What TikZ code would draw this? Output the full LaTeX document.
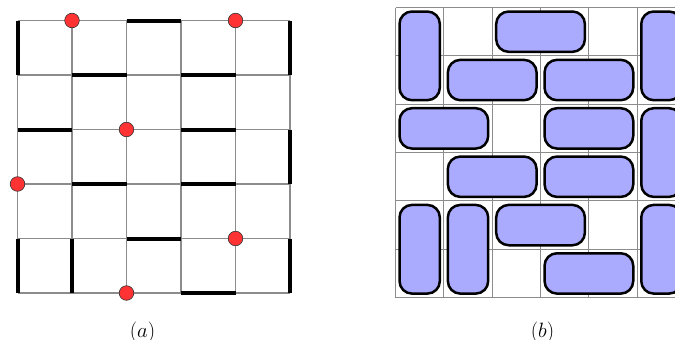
\documentclass[tikz,border=0pt]{standalone}
\definecolor{dotred}{RGB}{255,51,51}
\definecolor{domfill}{RGB}{170,170,255}
\definecolor{gridgray}{RGB}{140,140,140}
\begin{document}
\begin{tikzpicture}[x=1pt,y=-1pt,
  gridline/.style={draw=gridgray, line width=1.1pt},
  wall/.style={draw=black, line width=4pt},
  dot/.style={circle, fill=dotred, draw=black!80, line width=0.6pt, inner sep=0pt, minimum size=14.6pt},
  dominobox/.style={fill=domfill, draw=black, line width=2.5pt, rounded corners=12.5pt},
  caption/.style={font=\fontsize{20.74}{24}\selectfont, inner sep=0pt}]
\useasboundingbox (0,0) rectangle (675,340);
\clip (0,0) rectangle (675,340);
% ---------- panel (a) ----------
\def\ax{17.5}\def\ay{20.5}\def\as{54.5}
\foreach \i in {0,...,5}{
  \draw[gridline] ({\ax+\as*\i},\ay) -- ({\ax+\as*\i},{\ay+5*\as});
  \draw[gridline] (\ax,{\ay+\as*\i}) -- ({\ax+5*\as},{\ay+\as*\i});
}
% horizontal walls: row j, from column i to i+1
\foreach \j/\i in {0/2,1/1,1/3,2/0,2/3,3/1,3/3,4/2,5/3}{
  \draw[wall] ({\ax+\as*\i},{\ay+\as*\j}) -- ({\ax+\as*(\i+1)},{\ay+\as*\j});
}
% vertical walls: column i, from row j to j+1
\foreach \i/\j in {0/0,5/0,5/2,0/4,1/4,5/4}{
  \draw[wall] ({\ax+\as*\i},{\ay+\as*\j}) -- ({\ax+\as*\i},{\ay+\as*(\j+1)});
}
% red points
\foreach \i/\j [count=\k] in {1/0,4/0,2/2,0/3,4/4,2/5}{
  \node[dot] (p\k) at ({\ax+\as*\i},{\ay+\as*\j}) {};
}
% ---------- panel (b) ----------
\def\bx{395.5}\def\by{7.5}\def\bs{48.35}
\foreach \i in {0,...,6}{
  \draw[gridline] ({\bx+\bs*\i},\by) -- ({\bx+\bs*\i},{\by+6*\bs});
  \draw[gridline] (\bx,{\by+\bs*\i}) -- ({\bx+6*\bs},{\by+\bs*\i});
}
\def\ins{4}
\foreach \c/\r/\w/\h in {0/0/1/2,2/0/2/1,5/0/1/2,1/1/2/1,3/1/2/1,0/2/2/1,3/2/2/1,5/2/1/2,1/3/2/1,3/3/2/1,0/4/1/2,1/4/1/2,2/4/2/1,5/4/1/2,3/5/2/1}{
  \draw[dominobox] ({\bx+\bs*\c+\ins},{\by+\bs*\r+\ins}) rectangle ({\bx+\bs*(\c+\w)-\ins},{\by+\bs*(\r+\h)-\ins});
}
% captions
\node[caption] (capa) at (142.5,332) {$(a)$};
\node[caption] (capb) at (542.5,332) {$(b)$};
\end{tikzpicture}
\end{document}
